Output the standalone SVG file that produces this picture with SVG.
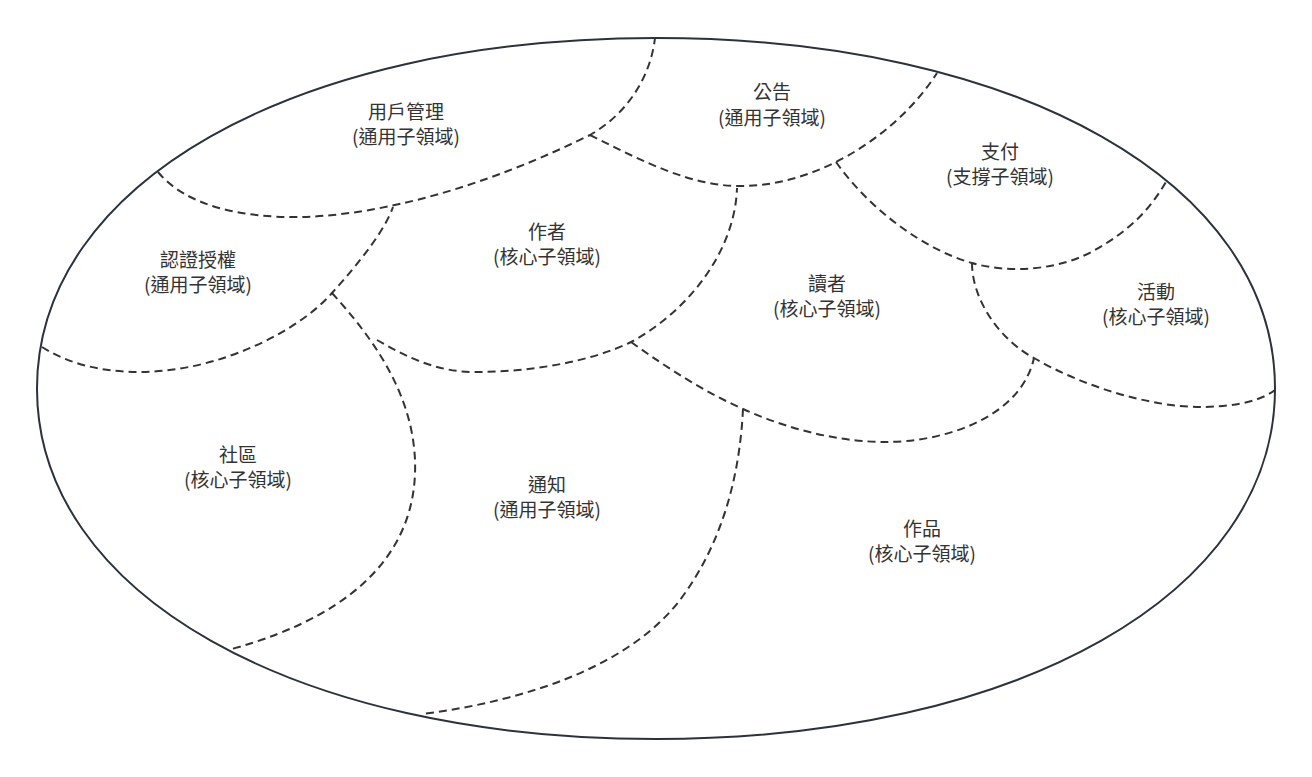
<svg xmlns="http://www.w3.org/2000/svg" width="1312" height="777" viewBox="0 0 1312 777">
<style>
.bg{fill:#ffffff}
.outer{fill:none;stroke:#2b323b;stroke-width:2}
.div{fill:none;stroke:#333333;stroke-width:2;stroke-dasharray:8 5}
.lbl{font-family:"Noto Sans CJK TC","Noto Sans CJK SC","Noto Sans",sans-serif;font-size:19px;fill:#333333;text-anchor:middle;dominant-baseline:central}
</style>
<rect class="bg" x="0" y="0" width="1312" height="777"/>
<g id="domain">
<path class="outer" d="M37,388.5 C37,183.5 293.9,38 656,38 C1018.1,38 1275,183.5 1275,388.5 C1275,593.5 1018.1,739 656,739 C293.9,739 37,593.5 37,388.5 Z"/>
</g>
<g id="connectors">
<path class="div" d="M158,172 C185,205 240,218 300,217 C360,216 462,198 590,135 C625,115 650,80 655,38"/>
<path class="div" d="M42,347 C70,365 105,372 139,372 C220,372 300,330 332,293 C360,262 385,230 393,207"/>
<path class="div" d="M332,293 C370,335 412,390 415,460 C418,540 370,612 228,650"/>
<path class="div" d="M377,340 C405,356 435,372 475,372 C530,372 590,362 631,342 C690,310 735,250 737,188"/>
<path class="div" d="M590,135 C640,160 690,186 739,186 C775,186 805,177 836,162 C870,145 910,115 937,73"/>
<path class="div" d="M836,162 C870,210 925,250 972,263 C1010,274 1060,270 1095,250 C1130,230 1150,210 1167,180"/>
<path class="div" d="M972,263 C972,300 1000,340 1034,358 C1080,385 1150,408 1205,407 C1240,406 1262,400 1275,390"/>
<path class="div" d="M631,342 C670,370 705,392 743,409 C790,430 840,442 886,442 C940,442 1020,420 1034,358"/>
<path class="div" d="M743,409 C740,470 725,540 680,600 C630,665 530,700 423,714"/>
</g>
<g id="user-mgmt"><text class="lbl" x="406" y="110">用戶管理</text><text class="lbl" x="406" y="135">(通用子領域)</text></g>
<g id="announcement"><text class="lbl" x="772" y="90">公告</text><text class="lbl" x="772" y="116">(通用子領域)</text></g>
<g id="payment"><text class="lbl" x="1000" y="150">支付</text><text class="lbl" x="1000" y="175">(支撐子領域)</text></g>
<g id="author"><text class="lbl" x="547" y="230">作者</text><text class="lbl" x="547" y="255">(核心子領域)</text></g>
<g id="auth"><text class="lbl" x="198" y="258">認證授權</text><text class="lbl" x="198" y="283">(通用子領域)</text></g>
<g id="reader"><text class="lbl" x="827" y="282">讀者</text><text class="lbl" x="827" y="307">(核心子領域)</text></g>
<g id="activity"><text class="lbl" x="1156" y="290">活動</text><text class="lbl" x="1156" y="315">(核心子領域)</text></g>
<g id="community"><text class="lbl" x="238" y="453">社區</text><text class="lbl" x="238" y="478">(核心子領域)</text></g>
<g id="notification"><text class="lbl" x="547" y="483">通知</text><text class="lbl" x="547" y="508">(通用子領域)</text></g>
<g id="works"><text class="lbl" x="922" y="527">作品</text><text class="lbl" x="922" y="552">(核心子領域)</text></g>
</svg>
